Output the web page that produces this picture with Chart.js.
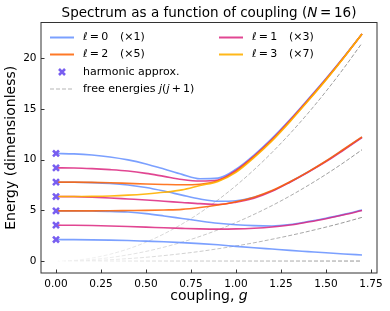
<!DOCTYPE html>
<html>
<head>
<meta charset="utf-8">
<script src="https://cdn.jsdelivr.net/npm/chart.js@4.4.1/dist/chart.umd.min.js"></script>
<style>
  html, body { margin: 0; padding: 0; background: #fff; }
  canvas { display: block; }
</style>
</head>
<body>
<canvas id="chart" width="390" height="311"></canvas>
<script>
// coupling grid the levels were read at
const couplings = [0, 0.1, 0.2, 0.3, 0.4, 0.5, 0.6, 0.7, 0.8, 0.9, 1.0, 1.1, 1.2, 1.3, 1.4, 1.5, 1.6, 1.7];

// l = 0 levels
const ell0_a = [2.12, 2.11, 2.09, 2.06, 2.02, 1.96, 1.9, 1.82, 1.72, 1.6, 1.45, 1.31, 1.18, 1.05, 0.93, 0.81, 0.7, 0.6];
const ell0_b = [4.95, 4.95, 4.93, 4.9, 4.83, 4.68, 4.45, 4.2, 3.95, 3.73, 3.58, 3.49, 3.46, 3.6, 3.9, 4.22, 4.6, 5.02];
const ell0_c = [7.78, 7.77, 7.73, 7.65, 7.5, 7.25, 6.9, 6.5, 6.12, 5.9, 5.95, 6.28, 6.92, 7.8, 8.78, 9.85, 11.02, 12.22];
const ell0_d = [10.61, 10.57, 10.46, 10.27, 9.98, 9.58, 9.08, 8.55, 8.12, 8.18, 9.05, 10.45, 12.1, 13.95, 15.95, 18.0, 20.15, 22.4];
// l = 1 levels
const ell1_a = [3.54, 3.53, 3.5, 3.46, 3.41, 3.35, 3.28, 3.22, 3.17, 3.15, 3.17, 3.24, 3.36, 3.55, 3.85, 4.18, 4.56, 4.98];
const ell1_b = [6.36, 6.35, 6.3, 6.22, 6.12, 6.02, 5.9, 5.78, 5.66, 5.58, 5.8, 6.2, 6.88, 7.78, 8.75, 9.8, 10.98, 12.18];
const ell1_c = [9.19, 9.18, 9.12, 9.02, 8.88, 8.65, 8.35, 8.05, 7.9, 8.0, 8.95, 10.35, 12.0, 13.88, 15.88, 17.95, 20.12, 22.4];
// l = 2 levels
const ell2_a = [4.95, 4.95, 4.95, 4.96, 4.98, 5.0, 5.04, 5.1, 5.28, 5.52, 5.85, 6.3, 6.95, 7.82, 8.8, 9.87, 11.05, 12.25];
const ell2_b = [7.78, 7.78, 7.76, 7.72, 7.66, 7.6, 7.55, 7.52, 7.58, 7.92, 8.85, 10.28, 11.93, 13.82, 15.83, 17.9, 20.1, 22.4];
// l = 3 level
const ell3_a = [6.36, 6.36, 6.38, 6.42, 6.5, 6.62, 6.78, 7.02, 7.45, 7.85, 8.75, 10.2, 11.85, 13.75, 15.78, 17.87, 20.08, 22.4];

// harmonic approximation at g = 0
const harmonicE = [2.12, 3.54, 4.95, 6.36, 7.78, 9.19, 10.61];

// free rotor energies j(j+1)
const free0 = [0, 0, 0, 0, 0, 0, 0, 0, 0, 0, 0, 0, 0, 0, 0, 0, 0, 0];
const free1 = [0, 0.01, 0.06, 0.13, 0.24, 0.37, 0.54, 0.73, 0.95, 1.21, 1.49, 1.8, 2.15, 2.52, 2.92, 3.35, 3.81, 4.31];
const free2 = [0, 0.04, 0.15, 0.34, 0.61, 0.95, 1.37, 1.86, 2.43, 3.08, 3.8, 4.6, 5.47, 6.42, 7.45, 8.55, 9.73, 10.98];
const free3 = [0, 0.07, 0.3, 0.67, 1.19, 1.86, 2.68, 3.65, 4.76, 6.03, 7.44, 9.0, 10.71, 12.57, 14.58, 16.74, 19.05, 21.5];

const gTicks = [0, 0.25, 0.5, 0.75, 1.0, 1.25, 1.5, 1.75];
const energyTicks = [0, 5, 10, 15, 20];

const legendRows = [
  ['0', '×1', '1', '×3'],
  ['2', '×5', '3', '×7']
];

const BLUE = 'rgba(100,143,255,0.85)';
const MAGENTA = 'rgba(220,38,127,0.85)';
const ORANGE = 'rgba(254,97,0,0.85)';
const YELLOW = 'rgba(255,176,0,0.9)';
const PURPLE = '#785EF0';
const FONT = 'DejaVu Sans';

Chart.defaults.font.family = FONT;

function series(vals) {
  return couplings.map((g, i) => ({ x: g, y: vals[i] }));
}

function curve(vals, color, order) {
  return {
    data: series(vals),
    borderColor: color,
    borderWidth: 1.6,
    pointRadius: 0,
    cubicInterpolationMode: 'monotone',
    fill: false,
    order: order
  };
}

// dashed lines fade in with g
function fadeGray(context) {
  const chart = context.chart;
  if (!chart.chartArea) return 'rgba(110,110,110,0.6)';
  const xs = chart.scales.x;
  const grad = chart.ctx.createLinearGradient(xs.getPixelForValue(0), 0, xs.getPixelForValue(1.7), 0);
  grad.addColorStop(0, 'rgba(110,110,110,0)');
  grad.addColorStop(1, 'rgba(110,110,110,0.75)');
  return grad;
}

function dashed(vals) {
  return {
    data: series(vals),
    borderColor: fadeGray,
    borderWidth: 1,
    borderDash: [4, 2],
    pointRadius: 0,
    cubicInterpolationMode: 'monotone',
    fill: false,
    order: 5
  };
}

function drawParts(ctx, parts, x, y, size, align) {
  const fonts = parts.map(p => (p[1] ? 'italic ' : '') + size + 'px "' + FONT + '"');
  let total = 0;
  const widths = parts.map((p, i) => {
    ctx.font = fonts[i];
    const w = ctx.measureText(p[0]).width;
    total += w;
    return w;
  });
  let cx = align === 'center' ? x - total / 2 : x;
  ctx.textAlign = 'left';
  ctx.textBaseline = 'middle';
  ctx.fillStyle = '#000';
  parts.forEach((p, i) => {
    ctx.font = fonts[i];
    ctx.fillText(p[0], cx, y);
    cx += widths[i];
  });
}

const decor = {
  id: 'decor',
  afterDraw(chart) {
    const ctx = chart.ctx;
    const a = chart.chartArea;
    const xs = chart.scales.x;
    const ys = chart.scales.y;
    ctx.save();

    // frame
    ctx.strokeStyle = '#333';
    ctx.lineWidth = 1;
    ctx.strokeRect(a.left, a.top, a.right - a.left, a.bottom - a.top);

    // inward ticks
    ctx.beginPath();
    gTicks.forEach(v => {
      const px = Math.round(xs.getPixelForValue(v)) + 0.5;
      ctx.moveTo(px, a.bottom);
      ctx.lineTo(px, a.bottom - 3.5);
    });
    energyTicks.forEach(v => {
      const py = Math.round(ys.getPixelForValue(v)) + 0.5;
      ctx.moveTo(a.left, py);
      ctx.lineTo(a.left + 3.5, py);
    });
    ctx.stroke();

    // title and axis labels
    drawParts(ctx, [['Spectrum as a function of coupling (', false], ['N', true], ['\u2009=\u200916)', false]],
      (a.left + a.right) / 2, 13.5, 13.5, 'center');
    drawParts(ctx, [['coupling, ', false], ['g', true]], (a.left + a.right) / 2, 296, 14, 'center');
    ctx.save();
    ctx.translate(11.5, (a.top + a.bottom) / 2);
    ctx.rotate(-Math.PI / 2);
    drawParts(ctx, [['Energy (dimensionless)', false]], 0, 0, 14, 'center');
    ctx.restore();

    // legend
    const colors = [[BLUE, MAGENTA], [ORANGE, YELLOW]];
    const rowY = [37.5, 54.5, 72, 89];
    const colX = [50, 219];
    legendRows.forEach((row, r) => {
      [0, 1].forEach(c => {
        const x0 = colX[c];
        ctx.strokeStyle = colors[r][c];
        ctx.lineWidth = 2;
        ctx.setLineDash([]);
        ctx.beginPath();
        ctx.moveTo(x0, rowY[r]);
        ctx.lineTo(x0 + 24, rowY[r]);
        ctx.stroke();
        drawParts(ctx, [['ℓ', true], ['\u2009=\u2009' + row[c * 2], false]], x0 + 33, rowY[r], 11, 'left');
        drawParts(ctx, [['(' + row[c * 2 + 1] + ')', false]], x0 + 70, rowY[r], 11, 'left');
      });
    });

    // harmonic marker
    const mx = 62, my = rowY[2], mr = 3;
    ctx.strokeStyle = PURPLE;
    ctx.lineWidth = 2.6;
    ctx.beginPath();
    ctx.moveTo(mx - mr, my - mr); ctx.lineTo(mx + mr, my + mr);
    ctx.moveTo(mx - mr, my + mr); ctx.lineTo(mx + mr, my - mr);
    ctx.stroke();
    drawParts(ctx, [['harmonic approx.', false]], 83, my, 11, 'left');

    // free energies handle
    ctx.strokeStyle = 'rgba(110,110,110,0.5)';
    ctx.lineWidth = 1;
    ctx.setLineDash([4, 2]);
    ctx.beginPath();
    ctx.moveTo(50, rowY[3]);
    ctx.lineTo(74, rowY[3]);
    ctx.stroke();
    ctx.setLineDash([]);
    drawParts(ctx, [['free energies ', false], ['j', true], ['(', false], ['j', true], ['\u2009+\u20091)', false]],
      83, rowY[3], 11, 'left');

    ctx.restore();
  }
};

new Chart(document.getElementById('chart'), {
  type: 'line',
  data: {
    datasets: [
      dashed(free0), dashed(free1), dashed(free2), dashed(free3),
      curve(ell0_a, BLUE, 4), curve(ell0_b, BLUE, 4), curve(ell0_c, BLUE, 4), curve(ell0_d, BLUE, 4),
      curve(ell1_a, MAGENTA, 3), curve(ell1_b, MAGENTA, 3), curve(ell1_c, MAGENTA, 3),
      curve(ell2_a, ORANGE, 2), curve(ell2_b, ORANGE, 2),
      curve(ell3_a, YELLOW, 1),
      {
        data: harmonicE.map(e => ({ x: 0, y: e })),
        showLine: false,
        pointStyle: 'crossRot',
        pointRadius: 4.2,
        pointBorderWidth: 2.6,
        pointBorderColor: PURPLE,
        borderColor: PURPLE,
        order: 0
      }
    ]
  },
  options: {
    responsive: false,
    devicePixelRatio: 1,
    animation: false,
    layout: { padding: { top: 22.5, right: 13, left: 0, bottom: 0 } },
    plugins: {
      legend: { display: false },
      tooltip: { enabled: false }
    },
    scales: {
      x: {
        type: 'linear',
        min: -0.0833,
        max: 1.7833,
        grid: { display: false, drawTicks: false },
        border: { display: false },
        afterBuildTicks: s => { s.ticks = gTicks.map(v => ({ value: v })); },
        afterFit: s => { s.height = 38; },
        ticks: {
          color: '#000',
          font: { size: 10.5 },
          padding: 5,
          maxRotation: 0,
          autoSkip: false,
          callback: v => v.toFixed(2)
        }
      },
      y: {
        type: 'linear',
        min: -1.18,
        max: 23.53,
        grid: { display: false, drawTicks: false },
        border: { display: false },
        afterBuildTicks: s => { s.ticks = energyTicks.map(v => ({ value: v })); },
        afterFit: s => { s.width = 41; },
        ticks: {
          color: '#000',
          font: { size: 10.5 },
          padding: 4.5,
          autoSkip: false,
          callback: v => String(v)
        }
      }
    }
  },
  plugins: [decor]
});
</script>
</body>
</html>
